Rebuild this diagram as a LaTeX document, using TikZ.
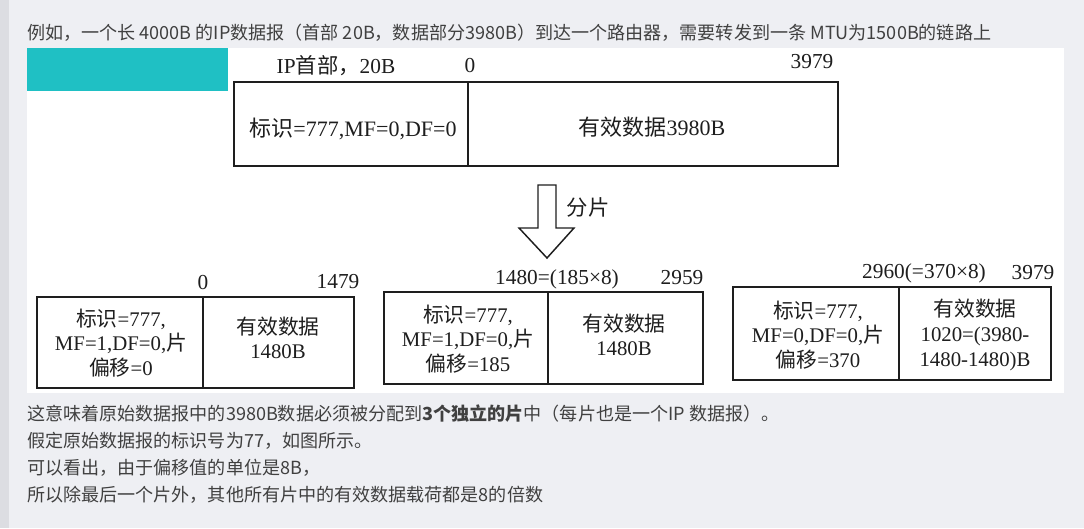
\documentclass[tikz,border=0pt]{standalone}
\usepackage{fontspec}
\setmainfont{Liberation Serif}
\newfontfamily\cjk{Noto Sans CJK SC}
\usetikzlibrary{calc}
\definecolor{pagegray}{HTML}{EEEFF3}
\definecolor{bargray}{HTML}{DCDDE2}
\definecolor{tagteal}{HTML}{1FC0C4}
\definecolor{txtgray}{HTML}{404040}
\definecolor{inkblk}{HTML}{1E1E1E}

\newcommand{\zh}[1]{{\cjk #1}}

\begin{document}
\begin{tikzpicture}[
    x=0.75pt, y=-0.75pt,
    every node/.style={inner sep=0pt},
    prose/.style={text=txtgray, anchor=west, font=\cjk\fontsize{13.55}{16}\selectfont},
    cell/.style={text=inkblk, align=center, font=\fontsize{15.6}{18.5}\selectfont},
    offs/.style={text=inkblk, font=\fontsize{16}{18}\selectfont},
    frame/.style={draw=inkblk, line width=1.5pt},
  ]

  % ══════════════════════════════════════════════════════
  % Page background
  % ══════════════════════════════════════════════════════
  \fill[pagegray] (0,0) rectangle (1084,528);
  \useasboundingbox (0,0) rectangle (1084,528);
  \fill[bargray] (0,0) rectangle (9,528);
  \fill[white] (27,48) rectangle (1064,393);
  \fill[tagteal] (27,48) rectangle (228,91);

  % ══════════════════════════════════════════════════════
  % Lead text
  % ══════════════════════════════════════════════════════
  \node[prose] (lead) at (27,33)
    {例如，一个长 4000B 的IP数据报（首部 20B，数据部分3980B）到达一个路由器，需要转发到一条 MTU为1500B的链路上};

  % ══════════════════════════════════════════════════════
  % Original datagram
  % ══════════════════════════════════════════════════════
  \coordinate (dgNW) at (234,82);
  \coordinate (dgSE) at (838,166);
  \draw[frame] (dgNW) rectangle (dgSE);
  \draw[frame] (468,82) -- (468,166);

  \node[offs] (dgHdr) at (336,66) {IP\zh{首部，}20B};
  \node[offs] (dgLo) at (470,66) {0};
  \node[offs] (dgHi) at (812,62) {3979};
  \node[cell, font=\fontsize{16.5}{19}\selectfont] (dgId) at (353,129)
    {\zh{标识}=777,MF=0,DF=0};
  \node[cell, font=\fontsize{16.5}{19}\selectfont] (dgData) at (652,127)
    {\zh{有效数据}3980B};

  % ══════════════════════════════════════════════════════
  % Hollow arrow "fragment"
  % ══════════════════════════════════════════════════════
  \draw[inkblk, line width=1.1pt, fill=white, line join=miter]
    (538,185) -- (556,185) -- (556,228) -- (574,228) -- (547,258)
    -- (519,228) -- (538,228) -- cycle;
  \node[offs] (fragTag) at (588,207) {\zh{分片}};

  % ══════════════════════════════════════════════════════
  % Three fragments: n / left / top / right / bottom / divider
  % ══════════════════════════════════════════════════════
  \foreach \n/\l/\t/\r/\b/\d in {1/37/297/354/388/203,
                                   2/384/292/703/384/548,
                                   3/733/287/1051/380/899}{
    \draw[frame] (\l,\t) rectangle (\r,\b);
    \draw[frame] (\d,\t) -- (\d,\b);
  }

  % fragment 1
  \node[offs] (fOneLo) at (203,283) {0};
  \node[offs] (fOneHi) at (338,282) {1479};
  \node[cell] (fOneId) at (121,343)
    {\zh{标识}=777,\\MF=1,DF=0,\zh{片}\\\zh{偏移}=0};
  \node[cell] (fOneData) at (278,338) {\zh{有效数据}\\1480B};

  % fragment 2
  \node[offs] (fTwoLo) at (557,279) {1480=(185×8)};
  \node[offs] (fTwoHi) at (682,278) {2959};
  \node[cell] (fTwoId) at (468,339)
    {\zh{标识}=777,\\MF=1,DF=0,\zh{片}\\\zh{偏移}=185};
  \node[cell] (fTwoData) at (624,335) {\zh{有效数据}\\1480B};

  % fragment 3
  \node[offs] (fThreeLo) at (924,273) {2960(=370×8)};
  \node[offs] (fThreeHi) at (1033,273) {3979};
  \node[cell] (fThreeId) at (818,335)
    {\zh{标识}=777,\\MF=0,DF=0,\zh{片}\\\zh{偏移}=370};
  \node[cell] (fThreeData) at (975,335)
    {\zh{有效数据}\\1020=(3980-\\1480-1480)B};

  % ══════════════════════════════════════════════════════
  % Closing remarks
  % ══════════════════════════════════════════════════════
  \node[prose] (noteA) at (27,414)
    {这意味着原始数据报中的3980B数据必须被分配到\textbf{3个独立的片}中（每片也是一个IP 数据报）。};
  \node[prose] (noteB) at (27,441) {假定原始数据报的标识号为77，如图所示。};
  \node[prose] (noteC) at (27,468) {可以看出，由于偏移值的单位是8B，};
  \node[prose] (noteD) at (27,495)
    {所以除最后一个片外，其他所有片中的有效数据载荷都是8的倍数};

\end{tikzpicture}
\end{document}
